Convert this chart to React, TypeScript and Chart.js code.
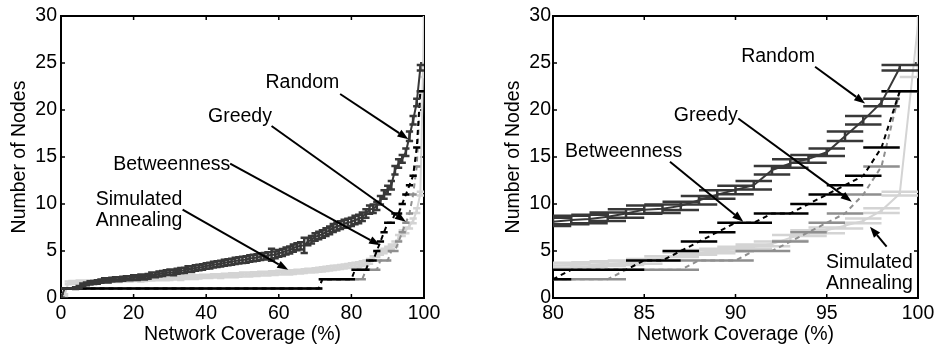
import React, { useEffect, useRef } from "react";
import { Chart, registerables } from "chart.js";

Chart.register(...registerables);

// ---------- data ----------
const coverage = [
  0, 1, 2, 3, 4, 5, 6, 7, 8, 9,
  10, 11, 12, 13, 14, 15, 16, 17, 18, 19,
  20, 21, 22, 23, 24, 25, 26, 27, 28, 29,
  30, 31, 32, 33, 34, 35, 36, 37, 38, 39,
  40, 41, 42, 43, 44, 45, 46, 47, 48, 49,
  50, 51, 52, 53, 54, 55, 56, 57, 58, 59,
  60, 61, 62, 63, 64, 65, 66, 67, 68, 69,
  70, 71, 72, 73, 74, 75, 76, 77, 78, 79,
  80, 81, 82, 83, 84, 85, 86, 87, 88, 89,
  90, 91, 92, 93, 94, 95, 96, 97, 98, 99,
  100,
];

const randomNodes = [
  0, 1.0, 1.0, 1.0, 1.05, 1.15, 1.4, 1.5, 1.6, 1.65,
  1.7, 1.8, 1.9, 1.85, 1.95, 2.0, 2.0, 2.05, 2.1, 2.1,
  2.2, 2.15, 2.25, 2.2, 2.3, 2.45, 2.45, 2.55, 2.6, 2.7,
  2.75, 2.7, 2.85, 2.9, 2.95, 3.1, 3.05, 3.2, 3.25, 3.3,
  3.4, 3.45, 3.55, 3.6, 3.65, 3.75, 3.8, 3.85, 3.95, 4.0,
  4.05, 4.1, 4.2, 4.25, 4.3, 4.4, 4.45, 4.5, 4.6, 4.6,
  4.75, 4.85, 5.0, 5.1, 5.3, 5.45, 5.55, 5.6, 6.0, 6.2,
  6.5, 6.65, 6.8, 7.0, 7.2, 7.45, 7.6, 7.75, 7.9, 8.0,
  8.1, 8.3, 8.4, 8.65, 9.0, 9.4, 9.5, 9.8, 10.4, 11.0,
  11.5, 12.0, 13.6, 14.3, 14.8, 15.5, 17.2, 18.9, 20.8, 24.5,
  null,
];

const randomErr = [
  0, 0, 0, 0, 0.1, 0.12, 0.15, 0.15, 0.17, 0.17,
  0.18, 0.18, 0.2, 0.2, 0.2, 0.2, 0.21, 0.21, 0.22, 0.22,
  0.23, 0.23, 0.24, 0.24, 0.25, 0.25, 0.25, 0.26, 0.26, 0.26,
  0.27, 0.27, 0.27, 0.28, 0.28, 0.28, 0.29, 0.29, 0.3, 0.3,
  0.3, 0.3, 0.31, 0.31, 0.31, 0.32, 0.32, 0.32, 0.33, 0.33,
  0.33, 0.34, 0.34, 0.34, 0.35, 0.35, 0.35, 0.36, 0.65, 0.36,
  0.36, 0.37, 0.37, 0.37, 0.38, 0.38, 0.38, 0.8, 0.39, 0.39,
  0.4, 0.4, 0.4, 0.41, 0.41, 0.42, 0.42, 0.42, 0.43, 0.43,
  0.45, 0.45, 0.45, 0.45, 0.45, 0.45, 0.45, 0.45, 0.45, 0.45,
  0.45, 0.45, 0.45, 0.45, 0.4, 0.4, 0.5, 0.45, 0.4, 0.3,
  null,
];

const betweennessNodes = [
  0, 1, 1, 1, 1, 1, 1, 1, 1, 1,
  1, 1, 1, 1, 1, 1, 1, 1, 1, 1,
  1, 1, 1, 1, 1, 1, 1, 1, 1, 1,
  1, 1, 1, 1, 1, 1, 1, 1, 1, 1,
  1, 1, 1, 1, 1, 1, 1, 1, 1, 1,
  1, 1, 1, 1, 1, 1, 1, 1, 1, 1,
  1, 1, 1, 1, 1, 1, 1, 1, 1, 1,
  1, 1, 2, 2, 2, 2, 2, 2, 2, 2,
  2, 3, 3, 3, 3, 4, 4, 5, 6, 7,
  8, 8, 9, 9, 10, 11, 12, 13, 16, 22,
  null,
];

const greedyNodes = [
  0, 1, 1, 1, 1, 1, 1, 1, 1, 1,
  1, 1, 1, 1, 1, 1, 1, 1, 1, 1,
  1, 1, 1, 1, 1, 1, 1, 1, 1, 1,
  1, 1, 1, 1, 1, 1, 1, 1, 1, 1,
  1, 1, 1, 1, 1, 1, 1, 1, 1, 1,
  1, 1, 1, 1, 1, 1, 1, 1, 1, 1,
  1, 1, 1, 1, 1, 1, 1, 1, 1, 1,
  1, 1, 2, 2, 2, 2, 2, 2, 2, 2,
  2, 2, 2, 2, 3, 3, 3, 3, 4, 4,
  4, 5, 5, 6, 7, 8, 9, 11, 14, 22,
  null,
];

const annealingNodes = [
  0, 0.3, 1.6, 1.65, 1.65, 1.7, 1.7, 1.7, 1.75, 1.75,
  1.75, 1.8, 1.8, 1.8, 1.85, 1.85, 1.85, 1.9, 1.9, 1.9,
  1.95, 1.95, 1.9, 1.95, 2.0, 2.0, 2.05, 2.05, 2.1, 2.05,
  2.1, 2.15, 2.15, 2.1, 2.2, 2.2, 2.25, 2.2, 2.25, 2.3,
  2.3, 2.3, 2.35, 2.35, 2.3, 2.4, 2.4, 2.45, 2.4, 2.45,
  2.5, 2.5, 2.5, 2.55, 2.55, 2.6, 2.6, 2.6, 2.65, 2.65,
  2.7, 2.7, 2.75, 2.7, 2.75, 2.8, 2.8, 2.85, 2.9, 2.9,
  2.95, 3.0, 3.05, 3.1, 3.15, 3.2, 3.25, 3.3, 3.35, 3.4,
  3.45, 3.5, 3.55, 3.65, 3.75, 3.9, 4.2, 4.6, 4.85, 5.0,
  5.2, 5.45, 5.75, 6.4, 6.9, 7.2, 7.7, 8.2, 9.3, 11.1,
  29.1,
];

const annealingErr = [
  0, 0.1, 0.15, 0.15, 0.15, 0.15, 0.15, 0.15, 0.15, 0.15,
  0.15, 0.15, 0.15, 0.15, 0.15, 0.15, 0.15, 0.15, 0.15, 0.15,
  0.15, 0.15, 0.15, 0.15, 0.15, 0.15, 0.15, 0.15, 0.15, 0.15,
  0.18, 0.18, 0.18, 0.18, 0.18, 0.18, 0.18, 0.18, 0.18, 0.18,
  0.18, 0.18, 0.18, 0.18, 0.18, 0.18, 0.18, 0.18, 0.18, 0.18,
  0.2, 0.2, 0.2, 0.2, 0.2, 0.2, 0.2, 0.2, 0.2, 0.2,
  0.2, 0.2, 0.2, 0.2, 0.2, 0.2, 0.2, 0.2, 0.2, 0.2,
  0.22, 0.22, 0.22, 0.22, 0.22, 0.22, 0.22, 0.22, 0.22, 0.22,
  0.25, 0.25, 0.25, 0.25, 0.25, 0.25, 0.25, 0.25, 0.25, 0.25,
  0.25, 0.25, 0.25, 0.3, 0.3, 0.3, 0.3, 0.25, 0.25, 0.2,
  5.6,
];

const yTicks = [0, 5, 10, 15, 20, 25, 30];
const leftXTicks = [0, 20, 40, 60, 80, 100];
const rightXTicks = [80, 85, 90, 95, 100];

const xTitle = "Network Coverage (%)";
const yTitle = "Number of Nodes";

// annotation labels (data coordinates)
const leftNotes = [
  { text: ["Random"], x: 66.5, y: 22.9, from: [76.9, 21.7], to: [95.7, 16.9] },
  { text: ["Greedy"], x: 49.3, y: 19.3, from: [58.0, 18.3], to: [95.0, 8.1] },
  { text: ["Betweenness"], x: 30.5, y: 14.2, from: [46.6, 14.3], to: [87.9, 5.6] },
  { text: ["Simulated", "Annealing"], x: 21.5, y: 9.3, from: [33.5, 9.4], to: [62.6, 3.0] },
];
const rightNotes = [
  { text: ["Random"], x: 92.33, y: 25.65, from: [94.36, 24.6], to: [97.1, 20.7] },
  { text: ["Greedy"], x: 88.37, y: 19.45, from: [90.15, 19.1], to: [96.37, 10.25] },
  { text: ["Betweenness"], x: 83.87, y: 15.55, from: [86.41, 14.5], to: [90.43, 8.12] },
  { text: ["Simulated", "Annealing"], x: 97.34, y: 2.67, from: [98.28, 5.46], to: [97.37, 7.59] },
];

const FONT = "'Liberation Sans', Arial, Helvetica, sans-serif";
const CAP = 1; // half-width of error-bar caps in coverage units

const pts = (arr: (number | null)[]) => coverage.map((x, i) => ({ x, y: arr[i] ?? null }));

// ---------- plugins ----------
const framePlugin = {
  id: "frame",
  beforeDatasetsDraw(chart: any) {
    const { ctx, chartArea: a } = chart;
    const xs = chart.scales.x, ys = chart.scales.y;
    ctx.save();
    ctx.strokeStyle = "#000";
    ctx.lineWidth = 2;
    ctx.strokeRect(a.left, a.top, a.right - a.left, a.bottom - a.top);
    ctx.lineWidth = 1.5;
    const tl = 4;
    ctx.beginPath();
    xs.ticks.forEach((t: any) => {
      const p = xs.getPixelForValue(t.value);
      ctx.moveTo(p, a.bottom); ctx.lineTo(p, a.bottom - tl);
      ctx.moveTo(p, a.top); ctx.lineTo(p, a.top + tl);
    });
    ys.ticks.forEach((t: any) => {
      const p = ys.getPixelForValue(t.value);
      ctx.moveTo(a.left, p); ctx.lineTo(a.left + tl, p);
      ctx.moveTo(a.right, p); ctx.lineTo(a.right - tl, p);
    });
    ctx.stroke();
    ctx.restore();
  },
};

const errorBarPlugin = {
  id: "errorBars",
  afterDatasetDraw(chart: any, args: any) {
    const ds = chart.data.datasets[args.index];
    if (!ds.errorBars) return;
    const err = ds.errors || [];
    const xs = chart.scales.x, ys = chart.scales.y;
    const { ctx, chartArea: a } = chart;
    ctx.save();
    ctx.beginPath();
    ctx.rect(a.left, a.top, a.right - a.left, a.bottom - a.top);
    ctx.clip();
    ctx.strokeStyle = ds.borderColor;
    ctx.lineWidth = 2.5;
    ctx.setLineDash([]);
    ctx.beginPath();
    ds.data.forEach((p: any, i: number) => {
      if (p.y == null) return;
      const e = err[i] ?? 0;
      const px = xs.getPixelForValue(p.x);
      const x0 = xs.getPixelForValue(p.x - CAP);
      const x1 = xs.getPixelForValue(p.x + CAP);
      const yt = ys.getPixelForValue(p.y + e);
      const yb = ys.getPixelForValue(p.y - e);
      if (e > 0) { ctx.moveTo(px, yt); ctx.lineTo(px, yb); }
      ctx.moveTo(x0, yt); ctx.lineTo(x1, yt);
      if (e > 0) { ctx.moveTo(x0, yb); ctx.lineTo(x1, yb); }
    });
    ctx.stroke();
    ctx.restore();
  },
};

const notesPlugin = {
  id: "notes",
  afterDraw(chart: any) {
    const notes = chart.options.plugins.notes?.items || [];
    const xs = chart.scales.x, ys = chart.scales.y;
    const ctx = chart.ctx;
    ctx.save();
    ctx.fillStyle = "#000";
    ctx.strokeStyle = "#000";
    ctx.font = `19.5px ${FONT}`;
    ctx.textAlign = "center";
    ctx.textBaseline = "middle";
    notes.forEach((n: any) => {
      const cx = xs.getPixelForValue(n.x);
      const cy = ys.getPixelForValue(n.y);
      const lh = 21;
      const h0 = cy - ((n.text.length - 1) * lh) / 2;
      n.text.forEach((t: string, i: number) => ctx.fillText(t, cx, h0 + i * lh));
      const fx = xs.getPixelForValue(n.from[0]), fy = ys.getPixelForValue(n.from[1]);
      const tx = xs.getPixelForValue(n.to[0]), ty = ys.getPixelForValue(n.to[1]);
      const ang = Math.atan2(ty - fy, tx - fx);
      const L = 11, W = 4;
      const bx = tx - L * Math.cos(ang), by = ty - L * Math.sin(ang);
      ctx.lineWidth = 2;
      ctx.beginPath();
      ctx.moveTo(fx, fy);
      ctx.lineTo(bx, by);
      ctx.stroke();
      ctx.beginPath();
      ctx.moveTo(tx, ty);
      ctx.lineTo(bx + W * Math.sin(ang), by - W * Math.cos(ang));
      ctx.lineTo(bx - W * Math.sin(ang), by + W * Math.cos(ang));
      ctx.closePath();
      ctx.fill();
    });
    ctx.restore();
  },
};

// ---------- chart factory ----------
function makeConfig(p: {
  xmin: number; xmax: number; xticks: number[]; yWidth: number; padRight: number;
  yTitlePad: number; tickPad: number; notes: any[];
}) {
  const line = (label: string, arr: any[], color: string, dash: number[], errors: any[] | null) => ({
    label,
    data: pts(arr),
    borderColor: color,
    backgroundColor: color,
    borderWidth: 2,
    borderDash: dash,
    pointRadius: 0,
    tension: 0,
    clip: 0,
    errorBars: true,
    errors,
  });
  return {
    type: "line",
    data: {
      datasets: [
        line("Random", randomNodes, "#383838", [], randomErr),
        line("Betweenness", betweennessNodes, "#000000", [5, 4], null),
        line("Greedy", greedyNodes, "#8f8f8f", [5, 4], null),
        line("Simulated Annealing", annealingNodes, "#d4d4d4", [], annealingErr),
      ],
    },
    options: {
      responsive: false,
      animation: false,
      devicePixelRatio: 1,
      layout: { padding: { top: 16, right: p.padRight, bottom: 0, left: 0 } },
      plugins: {
        legend: { display: false },
        tooltip: { enabled: false },
        notes: { items: p.notes },
      },
      scales: {
        x: {
          type: "linear",
          min: p.xmin,
          max: p.xmax,
          afterBuildTicks: (s: any) => { s.ticks = p.xticks.map((v) => ({ value: v })); },
          afterFit: (s: any) => { s.height = 47; },
          grid: { display: false, drawTicks: false },
          border: { display: false },
          ticks: { color: "#000", padding: 4, maxRotation: 0, font: { family: FONT, size: 19.5 } },
          title: {
            display: true,
            text: xTitle,
            color: "#000",
            font: { family: FONT, size: 19.5, lineHeight: 1.0 },
            padding: { top: 0, bottom: 0.8 },
          },
        },
        y: {
          type: "linear",
          min: 0,
          max: 30,
          afterBuildTicks: (s: any) => { s.ticks = yTicks.map((v) => ({ value: v })); },
          afterFit: (s: any) => { s.width = p.yWidth; },
          grid: { display: false, drawTicks: false },
          border: { display: false },
          ticks: { color: "#000", padding: p.tickPad, font: { family: FONT, size: 19.5 } },
          title: {
            display: true,
            text: yTitle,
            color: "#000",
            font: { family: FONT, size: 19.5, lineHeight: 1.2 },
            padding: { top: p.yTitlePad, bottom: 0 },
          },
        },
      },
    },
    plugins: [framePlugin, errorBarPlugin, notesPlugin],
  };
}

function Panel(props: { width: number; cfg: any }) {
  const ref = useRef<HTMLCanvasElement | null>(null);
  useEffect(() => {
    if (!ref.current) return;
    const chart = new Chart(ref.current, props.cfg);
    return () => chart.destroy();
  }, []);
  return <canvas ref={ref} width={props.width} height={345} style={{ display: "block", width: props.width, height: 345 }} />;
}

export default function App() {
  const leftCfg = makeConfig({
    xmin: 0, xmax: 100, xticks: leftXTicks, yWidth: 61, padRight: 46, yTitlePad: 8.3, tickPad: 4, notes: leftNotes,
  });
  const rightCfg = makeConfig({
    xmin: 80, xmax: 100, xticks: rightXTicks, yWidth: 83, padRight: 23, yTitlePad: 32.3, tickPad: 2, notes: rightNotes,
  });
  return (
    <div style={{ position: "absolute", left: 0, top: 0, width: 941, height: 345, background: "#fff", display: "flex" }}>
      <Panel width={470} cfg={leftCfg} />
      <Panel width={471} cfg={rightCfg} />
    </div>
  );
}
